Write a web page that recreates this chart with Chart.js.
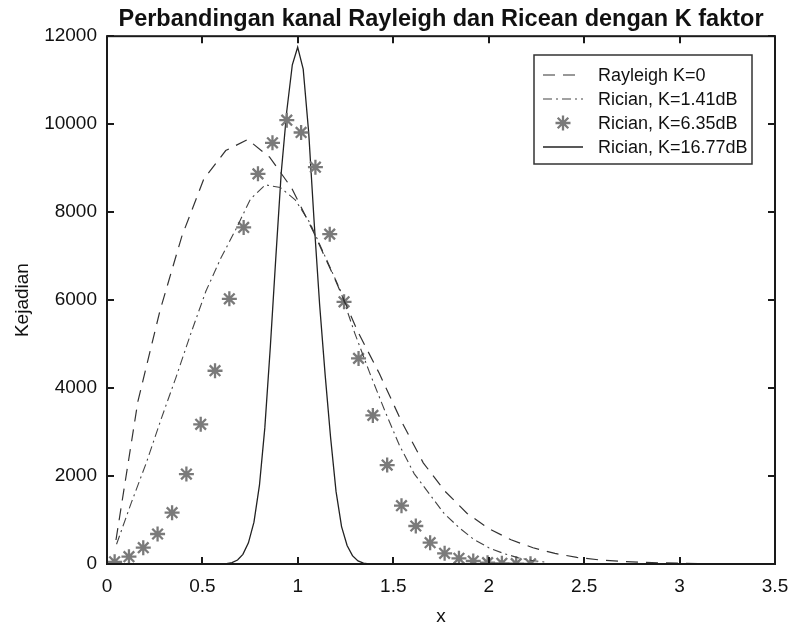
<!DOCTYPE html>
<html>
<head>
<meta charset="utf-8">
<script src="https://cdn.jsdelivr.net/npm/chart.js@4.4.1/dist/chart.umd.min.js"></script>
<style>
  body { margin: 0; background: #fff; }
  #wrap { width: 788px; height: 629px; }
</style>
</head>
<body>
<div id="wrap"><canvas id="myChart" width="788" height="629"></canvas></div>
<script>
// tick labels
const xTickLabels = ['0', '0.5', '1', '1.5', '2', '2.5', '3', '3.5'];
const yTickLabels = ['0', '2000', '4000', '6000', '8000', '10000', '12000'];

// Rayleigh K=0 (dashed)
const rayleighX = [0.047, 0.162, 0.277, 0.392, 0.507, 0.622, 0.737, 0.852, 0.967, 1.082,
                   1.197, 1.312, 1.427, 1.542, 1.657, 1.772, 1.887, 2.002, 2.117, 2.232,
                   2.347, 2.462, 2.577, 2.692, 2.807, 2.922, 3.037, 3.152, 3.267, 3.382];
const rayleighY = [545, 3700, 5750, 7450, 8750, 9400, 9650, 9250, 8550, 7550,
                   6450, 5300, 4330, 3250, 2300, 1650, 1150, 800, 550, 370,
                   240, 150, 95, 60, 38, 24, 15, 9, 5, 3];

// Rician K=1.41dB (dash-dot)
const rician1X = [0.050, 0.128, 0.206, 0.284, 0.362, 0.440, 0.518, 0.596, 0.674, 0.752,
                  0.830, 0.908, 0.986, 1.064, 1.142, 1.220, 1.298, 1.376, 1.454, 1.532,
                  1.610, 1.688, 1.766, 1.844, 1.922, 2.000, 2.078, 2.156, 2.234, 2.312];
const rician1Y = [450, 1400, 2300, 3300, 4250, 5250, 6200, 6950, 7600, 8300,
                  8620, 8560, 8280, 7750, 7000, 6250, 5250, 4350, 3500, 2700,
                  2050, 1600, 1150, 830, 560, 370, 240, 140, 75, 35];

// Rician K=6.35dB (asterisks)
const rician2X = [0.040, 0.115, 0.190, 0.265, 0.341, 0.416, 0.491, 0.566, 0.641, 0.716,
                  0.791, 0.867, 0.942, 1.017, 1.092, 1.167, 1.242, 1.318, 1.393, 1.468,
                  1.543, 1.618, 1.693, 1.769, 1.844, 1.919, 1.994, 2.069, 2.144, 2.219];
const rician2Y = [50, 166, 371, 682, 1166, 2045, 3175, 4394, 6030, 7652,
                  8870, 9575, 10090, 9811, 9023, 7500, 5961, 4675, 3379, 2250,
                  1326, 864, 485, 242, 129, 68, 30, 15, 8, 4];

// Rician K=16.77dB (solid)
const rician3X = [0.569, 0.598, 0.626, 0.655, 0.684, 0.712, 0.741, 0.770, 0.799, 0.827,
                  0.856, 0.885, 0.913, 0.942, 0.971, 0.999, 1.028, 1.057, 1.085, 1.114,
                  1.143, 1.171, 1.200, 1.229, 1.258, 1.286, 1.315, 1.344, 1.372, 1.401];
const rician3Y = [0, 3, 10, 30, 90, 220, 480, 950, 1800, 3100,
                  4950, 7000, 8900, 10300, 11350, 11750, 11250, 9800, 7800, 5900,
                  4300, 2900, 1650, 850, 420, 190, 70, 20, 5, 0];

const labels = ['Rayleigh K=0', 'Rician, K=1.41dB', 'Rician, K=6.35dB', 'Rician, K=16.77dB'];

const pts = (xs, ys) => xs.map((x, i) => ({ x: x, y: ys[i] }));
const FONT = "'Liberation Sans', Arial, Helvetica, sans-serif";

// box round the axes, inward ticks, legend inside the plot (matlab look)
const matlabAxes = {
    id: 'matlabAxes',
    afterDraw(chart) {
        const ctx = chart.ctx;
        const a = chart.chartArea;
        const xs = chart.scales.x, ys = chart.scales.y;
        ctx.save();
        ctx.strokeStyle = '#1a1a1a';
        ctx.lineWidth = 2;
        ctx.beginPath();
        xs.ticks.forEach(t => {
            const px = Math.round(xs.getPixelForValue(t.value));
            ctx.moveTo(px, a.bottom); ctx.lineTo(px, a.bottom - 7);
            ctx.moveTo(px, a.top); ctx.lineTo(px, a.top + 7);
        });
        ys.ticks.forEach(t => {
            const py = Math.round(ys.getPixelForValue(t.value));
            ctx.moveTo(a.left, py); ctx.lineTo(a.left + 7, py);
            ctx.moveTo(a.right, py); ctx.lineTo(a.right - 7, py);
        });
        ctx.stroke();
        ctx.strokeRect(a.left, a.top, a.right - a.left, a.bottom - a.top);

        // legend
        const bx = 534, by = 55, bw = 218, bh = 109;
        ctx.fillStyle = '#fff';
        ctx.fillRect(bx, by, bw, bh);
        ctx.lineWidth = 1.5;
        ctx.strokeStyle = '#333';
        ctx.strokeRect(bx, by, bw, bh);
        ctx.font = '18px ' + FONT;
        ctx.textBaseline = 'middle';
        ctx.textAlign = 'left';
        chart.data.datasets.forEach((ds, i) => {
            const cy = 75 + i * 24;
            ctx.save();
            if (ds.showLine === false) {
                ctx.strokeStyle = ds.pointBorderColor;
                ctx.lineWidth = ds.pointBorderWidth;
                Chart.helpers.drawPoint(ctx, { pointStyle: 'star', radius: ds.pointRadius, rotation: 0, borderWidth: ds.pointBorderWidth }, 563, cy);
            } else {
                ctx.strokeStyle = ds.borderColor;
                ctx.lineWidth = ds.borderWidth;
                ctx.setLineDash(ds.borderDash || []);
                ctx.beginPath();
                ctx.moveTo(543, cy); ctx.lineTo(583, cy);
                ctx.stroke();
            }
            ctx.restore();
            ctx.fillStyle = '#111';
            ctx.fillText(ds.label, 598, cy + 1);
        });
        ctx.restore();
    }
};

const ctx = document.getElementById('myChart').getContext('2d');
const myChart = new Chart(ctx, {
    type: 'line',
    data: {
        datasets: [{
            label: labels[0],
            data: pts(rayleighX, rayleighY),
            borderColor: '#333',
            borderWidth: 1.2,
            borderDash: [12, 8],
            pointRadius: 0
        }, {
            label: labels[1],
            data: pts(rician1X, rician1Y),
            borderColor: '#444',
            borderWidth: 1.1,
            borderDash: [9, 4, 2, 4],
            pointRadius: 0
        }, {
            label: labels[2],
            data: pts(rician2X, rician2Y),
            showLine: false,
            pointStyle: 'star',
            pointRadius: 7.5,
            pointBorderColor: '#7a7a7a',
            pointBorderWidth: 2.3,
            pointBackgroundColor: '#7a7a7a'
        }, {
            label: labels[3],
            data: pts(rician3X, rician3Y),
            borderColor: '#222',
            borderWidth: 1.3,
            pointRadius: 0
        }]
    },
    options: {
        responsive: false,
        animation: false,
        devicePixelRatio: 1,
        layout: { padding: { left: 0, right: 0, top: 0, bottom: 0 } },
        plugins: {
            legend: { display: false },
            tooltip: { enabled: false },
            title: {
                display: true,
                fullSize: false,
                text: 'Perbandingan kanal Rayleigh dan Ricean dengan K faktor',
                color: '#111',
                font: { family: FONT, size: 23.5, weight: 'bold' },
                padding: { top: 5, bottom: 3 }
            }
        },
        scales: {
            x: {
                type: 'linear',
                min: 0, max: 3.5,
                afterFit: s => { s.height = 65; s.paddingRight = 13; },
                grid: { display: false, drawTicks: false },
                border: { display: false },
                ticks: {
                    stepSize: 0.5,
                    padding: 11,
                    color: '#111',
                    font: { family: FONT, size: 19 },
                    maxRotation: 0,
                    callback: (v, i) => xTickLabels[i]
                },
                title: {
                    display: true, text: 'x', color: '#111',
                    font: { family: FONT, size: 19 },
                    padding: { top: 0, bottom: 1 }
                }
            },
            y: {
                min: 0, max: 12000,
                afterFit: s => { s.width = 107; },
                grid: { display: false, drawTicks: false },
                border: { display: false },
                ticks: {
                    stepSize: 2000,
                    padding: 10,
                    color: '#111',
                    font: { family: FONT, size: 19 },
                    callback: (v, i) => yTickLabels[i]
                },
                title: {
                    display: true, text: 'Kejadian', color: '#111',
                    font: { family: FONT, size: 19 },
                    padding: { top: 11, bottom: 0 }
                }
            }
        }
    },
    plugins: [matlabAxes]
});
</script>
</body>
</html>
